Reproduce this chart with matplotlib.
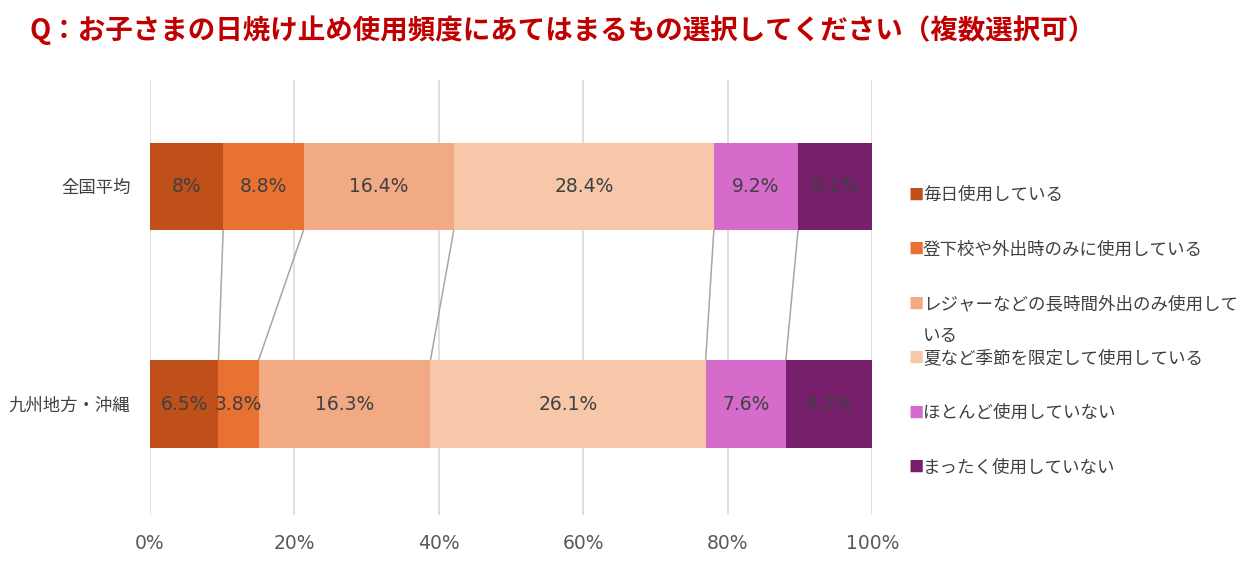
import numpy as np
import matplotlib.pyplot as plt

plt.rcParams['font.family'] = ['Noto Sans CJK JP', 'DejaVu Sans']

# data
categories = ['全国平均', '九州地方・沖縄']
series_labels = ['毎日使用している', '登下校や外出時のみに使用している',
                 'レジャーなどの長時間外出のみ使用して\nいる', '夏など季節を限定して使用している',
                 'ほとんど使用していない', 'まったく使用していない']
national = [8, 8.8, 16.4, 28.4, 9.2, 8.1]
kyushu = [6.5, 3.8, 16.3, 26.1, 7.6, 8.2]
colors = ['#C0501A', '#E97132', '#F2AA84', '#F7C7AA', '#D56CCB', '#771F6B']
xticks = [0, 20, 40, 60, 80, 100]

title = 'Q：お子さまの日焼け止め使用頻度にあてはまるもの選択してください（複数選択可）'

fig = plt.figure(figsize=(12.39, 5.69), dpi=100)
ax = fig.add_axes([0.121, 0.095, 0.583, 0.764])

data = np.array([national, kyushu], dtype=float)
shares = data / data.sum(axis=1, keepdims=True) * 100
lefts = np.hstack([np.zeros((2, 1)), np.cumsum(shares, axis=1)[:, :-1]])
ypos = np.arange(len(categories))
bar_h = 0.40

for j in range(len(series_labels)):
    ax.barh(ypos, shares[:, j], left=lefts[:, j], height=bar_h, color=colors[j],
            edgecolor='none', zorder=3)
    for i in range(len(categories)):
        ax.text(lefts[i, j] + shares[i, j] / 2, ypos[i], f'{data[i, j]:g}%',
                ha='center', va='center', fontsize=13.5, color='#404040', zorder=4,
                family='DejaVu Sans')

# connector lines between the two bars
bounds = np.cumsum(shares, axis=1)[:, :-1]
for k in range(bounds.shape[1]):
    ax.plot([bounds[0, k], bounds[1, k]], [ypos[0] + bar_h / 2, ypos[1] - bar_h / 2],
            color='#A6A6A6', lw=1.1, zorder=2)

ax.set_xlim(0, 100)
ax.set_ylim(1.509, -0.486)
ax.set_xticks(xticks)
ax.set_xticklabels([f'{t}%' for t in xticks], fontsize=13.5, color='#595959',
                   family='DejaVu Sans')
ax.set_yticks(ypos)
ax.set_yticklabels(categories, fontsize=12.5, color='#404040')
ax.tick_params(axis='x', length=0, pad=14)
ax.tick_params(axis='y', length=0, pad=14)
ax.xaxis.grid(True, color='#D9D9D9', lw=1.2, zorder=0)
for s in ax.spines.values():
    s.set_visible(False)

# legend
for j, lab in enumerate(series_labels):
    y = 1 - (195 + j * 54.5) / 569
    lines = lab.split('\n')
    fig.text(0.733, y, '■', color=colors[j], fontsize=11, va='center', ha='left')
    fig.text(0.745, y, lines[0], color='#404040', fontsize=12.6, va='center', ha='left')
    if len(lines) > 1:
        fig.text(0.745, y - 32 / 569, lines[1], color='#404040', fontsize=12.6,
                 va='center', ha='left')

fig.text(0.024, 1 - 30 / 569, title, color='#C00000', fontsize=19.8, fontweight='bold',
         va='center', ha='left')

fig.savefig('out.png', dpi=100)
